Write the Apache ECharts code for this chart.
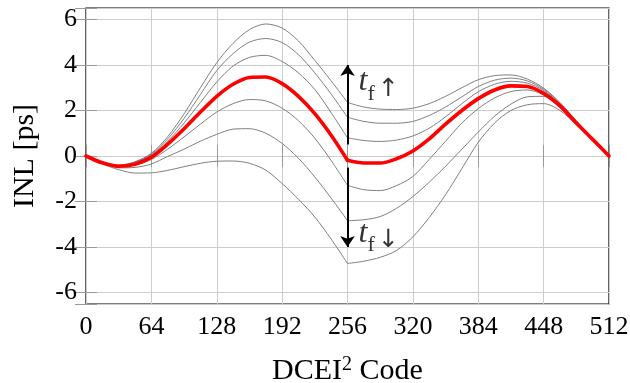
<!DOCTYPE html>
<html>
<head>
<meta charset="utf-8">
<script src="https://cdn.jsdelivr.net/npm/echarts@6/dist/echarts.min.js"></script>
<style>html,body{margin:0;padding:0;background:#fff}#c{width:630px;height:383px}</style>
</head>
<body>
<div id="c"></div>
<script>
// ---- data ----
const xLeft  = [0, 16, 32, 48, 64, 80, 96, 112, 128, 144, 160, 176, 192, 208, 224, 240, 256];
const xRight = [256, 272, 288, 304, 320, 336, 352, 368, 384, 400, 416, 432, 448, 464, 480, 496, 512];
const xTicks = [0, 64, 128, 192, 256, 320, 384, 448, 512];
const yTicks = [-6, -4, -2, 0, 2, 4, 6];

// gray curves (t_f sweep), left half (0..256) and right half (256..512)
const u3Left  = [0, -0.28, -0.40, -0.25, 0.12, 0.85, 1.85, 3.00, 4.10, 4.95, 5.55, 5.80, 5.62, 5.05, 4.20, 3.30, 2.35];
const u2Left  = [0, -0.28, -0.41, -0.27, 0.09, 0.75, 1.65, 2.70, 3.75, 4.50, 5.00, 5.16, 4.98, 4.45, 3.65, 2.72, 1.70];
const u1Left  = [0, -0.29, -0.42, -0.29, 0.05, 0.65, 1.45, 2.35, 3.25, 3.95, 4.33, 4.42, 4.15, 3.65, 2.92, 1.90, 0.80];
const l1Left  = [0, -0.30, -0.47, -0.40, -0.15, 0.30, 0.84, 1.40, 1.93, 2.30, 2.48, 2.42, 2.10, 1.55, 0.78, -0.20, -1.29];
const l2Left  = [0, -0.32, -0.52, -0.50, -0.35, -0.02, 0.30, 0.65, 0.95, 1.18, 1.20, 1.00, 0.55, -0.10, -0.92, -1.85, -2.84];
const l3Left  = [0, -0.35, -0.60, -0.75, -0.74, -0.63, -0.47, -0.32, -0.23, -0.22, -0.32, -0.62, -1.21, -1.90, -2.68, -3.65, -4.72];
const u3Right = [2.35, 2.15, 2.06, 2.04, 2.10, 2.30, 2.62, 3.00, 3.35, 3.53, 3.56, 3.38, 2.98, 2.35, 1.55, 0.77, 0];
const u2Right = [1.70, 1.52, 1.44, 1.44, 1.52, 1.78, 2.15, 2.60, 3.05, 3.33, 3.42, 3.30, 2.93, 2.32, 1.53, 0.76, 0];
const u1Right = [0.80, 0.68, 0.64, 0.70, 0.88, 1.22, 1.72, 2.30, 2.82, 3.15, 3.28, 3.20, 2.88, 2.28, 1.50, 0.75, 0];
const l1Right = [-1.29, -1.48, -1.52, -1.30, -0.90, -0.15, 0.65, 1.45, 2.08, 2.55, 2.83, 2.90, 2.68, 2.12, 1.42, 0.71, 0];
const l2Right = [-2.84, -2.80, -2.66, -2.30, -1.78, -1.15, -0.45, 0.30, 1.05, 1.75, 2.28, 2.60, 2.62, 2.15, 1.42, 0.71, 0];
const l3Right = [-4.72, -4.62, -4.45, -4.15, -3.55, -2.70, -1.70, -0.55, 0.60, 1.45, 2.00, 2.25, 2.30, 2.00, 1.38, 0.69, 0];
// nominal (red) curve
const redLeft  = [0, -0.30, -0.45, -0.36, -0.05, 0.52, 1.20, 1.93, 2.62, 3.15, 3.45, 3.47, 3.18, 2.62, 1.86, 0.91, -0.19];
const redRight = [-0.19, -0.31, -0.31, -0.12, 0.22, 0.75, 1.40, 2.00, 2.52, 2.90, 3.08, 3.05, 2.75, 2.20, 1.45, 0.73, 0];

// annotation arrows and labels (data coordinates)
const arrowUp   = [[256, 0.5], [256, 4.0]];
const arrowDown = [[256, -0.5], [256, -4.0]];
const labelUp   = [256, 3.1];
const labelDown = [256, -3.55];

// ---- chart ----
const FONT = 'Liberation Serif';
const zip = (xs, ys) => xs.map((x, i) => [x, ys[i]]);
const grayCurves = [
  [u3Left, u3Right], [u2Left, u2Right], [u1Left, u1Right],
  [l1Left, l1Right], [l2Left, l2Right], [l3Left, l3Right]
];
const series = [];
grayCurves.forEach(([L, R]) => {
  [[xLeft, L], [xRight, R]].forEach(([xs, ys]) => {
    series.push({
      type: 'line', data: zip(xs, ys), smooth: 0.3, showSymbol: false, silent: true,
      lineStyle: { color: '#7f7f7f', width: 1 }, z: 3
    });
  });
});
[[xLeft, redLeft], [xRight, redRight]].forEach(([xs, ys]) => {
  series.push({
    type: 'line', data: zip(xs, ys), smooth: 0.3, showSymbol: false, silent: true,
    lineStyle: { color: '#ff0000', width: 3.6, cap: 'round', join: 'round' }, z: 5
  });
});
const tfRich = {
  t: { fontFamily: FONT, fontStyle: 'italic', fontSize: 32, color: '#000', padding: [0, 0, 7, 0], verticalAlign: 'bottom' },
  f: { fontFamily: FONT, fontSize: 22, color: '#000', verticalAlign: 'bottom' },
  a: { fontFamily: 'DejaVu Sans', fontSize: 25, color: '#000', padding: [0, 0, 3, 0], verticalAlign: 'bottom' }
};
series.push({
  type: 'scatter', symbolSize: 0, silent: true, z: 6,
  data: [
    { value: labelUp, label: { formatter: '{t|t}{f|f} {a|↑}' } },
    { value: labelDown, label: { formatter: '{t|t}{f|f} {a|↓}' } }
  ],
  label: { show: true, position: 'right', distance: 11, rich: tfRich },
  markLine: {
    silent: true, symbol: ['none', 'arrow'], symbolSize: 11, precision: 4,
    lineStyle: { color: '#000', width: 2, type: 'solid' },
    label: { show: false },
    data: [
      [{ coord: arrowUp[0] }, { coord: arrowUp[1] }],
      [{ coord: arrowDown[0] }, { coord: arrowDown[1] }]
    ]
  }
});

const tickStyle = { show: true, inside: true, length: 11, lineStyle: { color: '#9a9a9a', width: 1 } };
const chart = echarts.init(document.getElementById('c'), null, { renderer: 'canvas' });
chart.setOption({
  animation: false,
  backgroundColor: '#fff',
  grid: { left: 86, right: 21, top: 8, bottom: 79, show: true, borderColor: '#000', borderWidth: 1.2,
    backgroundColor: 'transparent', containLabel: false, outerBoundsMode: 'none' },
  xAxis: [{
    type: 'value', min: xTicks[0], max: xTicks[xTicks.length - 1], interval: 64,
    axisLine: { show: false }, axisTick: tickStyle,
    splitLine: { show: true, lineStyle: { color: '#cdcdcd', width: 1 } },
    axisLabel: { fontFamily: FONT, fontSize: 26, color: '#000', margin: 10, customValues: xTicks },
    name: 'DCEI{s|2} Code', nameLocation: 'middle', nameGap: 51,
    nameTextStyle: { fontFamily: FONT, fontSize: 30, color: '#000', verticalAlign: 'top',
      rich: { s: { fontFamily: FONT, fontSize: 20, color: '#000', padding: [0, 0, 13, 0] } } }
  }, {
    type: 'value', position: 'top', min: xTicks[0], max: xTicks[xTicks.length - 1], interval: 64,
    axisLine: { show: false }, axisTick: tickStyle, axisLabel: { show: false }, splitLine: { show: false }
  }],
  yAxis: [{
    type: 'value', min: -6.5, max: 6.5, splitNumber: 6,
    axisLine: { show: false }, axisTick: tickStyle,
    splitLine: { show: true, lineStyle: { color: '#cdcdcd', width: 1 } },
    axisLabel: { fontFamily: FONT, fontSize: 26, color: '#000', margin: 9, customValues: yTicks },
    name: 'INL [ps]', nameLocation: 'middle', nameGap: 46, nameRotate: 90,
    nameTextStyle: { fontFamily: FONT, fontSize: 30, color: '#000' }
  }, {
    type: 'value', position: 'right', min: -6.5, max: 6.5, splitNumber: 6,
    axisLine: { show: false }, axisTick: tickStyle, axisLabel: { show: false }, splitLine: { show: false }
  }],
  series: series
});
</script>
</body>
</html>
